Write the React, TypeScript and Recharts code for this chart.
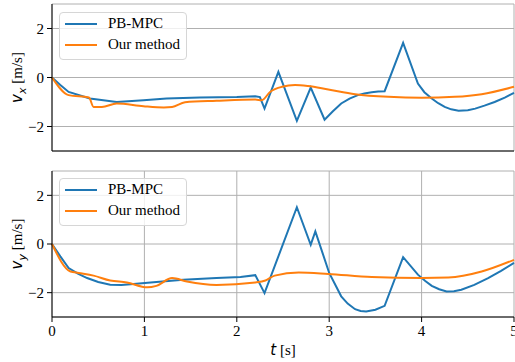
import { LineChart, Line, XAxis, YAxis, CartesianGrid, Legend } from 'recharts';

// time stamps [s] and velocities [m/s] for both controllers
const vxMpcT = [0, 0.09, 0.18, 0.41, 0.7, 0.99, 1.24, 1.6, 2.0, 2.2, 2.25, 2.3, 2.45, 2.65, 2.8, 2.95, 3.04, 3.13, 3.22, 3.31, 3.38, 3.46, 3.53, 3.6, 3.8, 3.96, 4.03, 4.11, 4.18, 4.25, 4.32, 4.4, 4.5, 4.58, 4.68, 4.79, 4.9, 5.0];
const vxMpc = [0, -0.31, -0.59, -0.86, -1.0, -0.93, -0.86, -0.82, -0.8, -0.77, -0.8, -1.27, 0.23, -1.77, -0.41, -1.72, -1.38, -1.06, -0.86, -0.72, -0.65, -0.6, -0.57, -0.56, 1.41, -0.25, -0.6, -0.86, -1.05, -1.2, -1.3, -1.36, -1.34, -1.27, -1.15, -1.0, -0.82, -0.63];

const vxOursT = [0, 0.18, 0.4, 0.45, 0.54, 0.7, 0.99, 1.21, 1.3, 1.44, 1.78, 2.2, 2.27, 2.36, 2.49, 2.63, 2.77, 2.99, 3.28, 3.64, 4.0, 4.36, 4.65, 5.0];
const vxOurs = [0, -0.72, -0.82, -1.2, -1.2, -1.06, -1.17, -1.22, -1.2, -1.01, -0.95, -0.9, -0.93, -0.59, -0.38, -0.31, -0.35, -0.49, -0.68, -0.79, -0.83, -0.79, -0.68, -0.38];

const vyMpcT = [0, 0.09, 0.18, 0.28, 0.38, 0.5, 0.63, 0.75, 0.85, 1.13, 1.42, 1.78, 2.04, 2.2, 2.3, 2.65, 2.8, 2.85, 3.0, 3.13, 3.2, 3.28, 3.34, 3.4, 3.5, 3.6, 3.8, 3.96, 4.04, 4.11, 4.19, 4.27, 4.35, 4.43, 4.57, 4.72, 4.86, 5.0];
const vyMpc = [0, -0.51, -0.99, -1.22, -1.4, -1.56, -1.67, -1.68, -1.65, -1.56, -1.47, -1.4, -1.36, -1.28, -2.02, 1.51, -0.03, 0.52, -1.19, -2.15, -2.45, -2.68, -2.75, -2.77, -2.7, -2.54, -0.54, -1.26, -1.52, -1.72, -1.86, -1.95, -1.94, -1.88, -1.68, -1.4, -1.1, -0.78];

const vyOursT = [0, 0.2, 0.29, 0.45, 0.63, 0.81, 1.03, 1.13, 1.3, 1.46, 1.78, 2.2, 2.31, 2.41, 2.67, 2.99, 3.46, 4.0, 4.29, 4.65, 5.0];
const vyOurs = [0, -1.13, -1.19, -1.3, -1.5, -1.58, -1.78, -1.72, -1.4, -1.54, -1.68, -1.58, -1.5, -1.3, -1.17, -1.23, -1.36, -1.4, -1.38, -1.13, -0.65];

const timeTicks = [0, 1, 2, 3, 4, 5];
const velTicks = [-2, 0, 2];
const seriesNames = ['PB-MPC', 'Our method'];

const BLUE = '#1f77b4';
const ORANGE = '#ff7f0e';
const SERIF = 'Liberation Serif, serif';
const SANS = 'DejaVu Sans, sans-serif';

const zip = (ts: number[], vs: number[]) => ts.map((t, i) => ({ t, v: vs[i] }));
const fmt = (n: number) => String(n).replace('-', '\u2212');

const LegendBox = ({ payload }: any) => {
  const items = [...(payload || [])].sort((a: any, b: any) => seriesNames.indexOf(a.value) - seriesNames.indexOf(b.value));
  return (
    <div
      style={{
        width: 128,
        boxSizing: 'border-box',
        border: '1px solid #d6d6d6',
        borderRadius: 4,
        background: 'rgba(255,255,255,0.8)',
        padding: '0 6px 4px 5px',
        fontFamily: SERIF,
        fontSize: 15,
        color: '#000',
      }}
    >
      {items.map((p: any) => (
        <div key={p.value} style={{ display: 'flex', alignItems: 'center', height: 21 }}>
          <svg width={32} height={4} style={{ flex: 'none' }}>
            <line x1={0} y1={2} x2={32} y2={2} stroke={p.color} strokeWidth={2} />
          </svg>
          <span style={{ marginLeft: 11, whiteSpace: 'nowrap', fontFamily: SERIF }}>{p.value}</span>
        </div>
      ))}
    </div>
  );
};

const YLabel = ({ viewBox, sub }: any) => {
  const cy = viewBox.y + viewBox.height / 2;
  const x = 22;
  return (
    <text x={x} y={cy} transform={`rotate(-90, ${x}, ${cy})`} textAnchor="middle" fontFamily={SERIF} fontSize={15} fill="#000">
      <tspan fontStyle="italic" fontFamily={SANS}>v</tspan>
      <tspan fontSize={11} dy={4} fontStyle="italic" fontFamily={SANS}>{sub}</tspan>
      <tspan dy={-4}> [m/s]</tspan>
    </text>
  );
};

const XLabel = ({ viewBox }: any) => (
  <text x={viewBox.x + viewBox.width / 2} y={viewBox.y + 38} textAnchor="middle" fontFamily={SERIF} fontSize={15} fill="#000">
    <tspan fontStyle="italic" fontFamily={SANS}>t</tspan> [s]
  </text>
);

type PanelProps = {
  mpc: { t: number; v: number }[];
  ours: { t: number; v: number }[];
  sub: string;
  top: number;
  height: number;
  marginTop: number;
  axisHeight: number;
  legendTop: number;
  bottomPanel: boolean;
};

const tickStyle = { fill: '#000', fontSize: 15, fontFamily: SERIF };

const Panel = ({ mpc, ours, sub, top, height, marginTop, axisHeight, legendTop, bottomPanel }: PanelProps) => (
  <div style={{ position: 'absolute', left: 0, top }}>
    <LineChart width={515} height={height} margin={{ top: marginTop, right: 1, bottom: 0, left: 0 }} style={{ fontFamily: SERIF }}>
      <CartesianGrid xAxisId="main" yAxisId="main" stroke="#b0b0b0" strokeWidth={1} />
      <XAxis
        xAxisId="main"
        dataKey="t"
        type="number"
        domain={[0, 5]}
        ticks={timeTicks}
        interval={0}
        height={axisHeight}
        axisLine={{ stroke: '#000' }}
        tickLine={{ stroke: '#000' }}
        tickSize={5}
        tickMargin={3}
        tick={bottomPanel ? tickStyle : false}
        label={bottomPanel ? <XLabel /> : undefined}
      />
      <XAxis xAxisId="top" orientation="top" type="number" domain={[0, 5]} ticks={timeTicks} height={0} tick={false} tickLine={false} axisLine={{ stroke: '#000' }} />
      <YAxis
        yAxisId="main"
        type="number"
        domain={[-3, 3]}
        ticks={velTicks}
        interval={0}
        width={52}
        axisLine={{ stroke: '#000' }}
        tickLine={{ stroke: '#000' }}
        tickSize={5}
        tickMargin={3}
        tickFormatter={fmt}
        tick={tickStyle}
        label={<YLabel sub={sub} />}
      />
      <YAxis yAxisId="right" orientation="right" type="number" domain={[-3, 3]} ticks={velTicks} width={0} tick={false} tickLine={false} axisLine={{ stroke: '#000' }} />
      <Line xAxisId="main" yAxisId="main" data={mpc} dataKey="v" name={seriesNames[0]} type="linear" stroke={BLUE} strokeWidth={2} dot={false} isAnimationActive={false} />
      <Line xAxisId="main" yAxisId="main" data={ours} dataKey="v" name={seriesNames[1]} type="monotoneX" stroke={ORANGE} strokeWidth={2} dot={false} isAnimationActive={false} />
      <Legend
        layout="horizontal"
        verticalAlign="middle"
        align="center"
        content={<LegendBox />}
        wrapperStyle={{ left: 59, top: legendTop, width: 128 }}
      />
    </LineChart>
  </div>
);

export default function App() {
  return (
    <div style={{ position: 'absolute', left: 0, top: 0, width: 515, height: 362, background: '#fff', fontFamily: SERIF }}>
      <Panel mpc={zip(vxMpcT, vxMpc)} ours={zip(vxOursT, vxOurs)} sub="x" top={0} height={161} marginTop={4} axisHeight={10} legendTop={12} bottomPanel={false} />
      <Panel mpc={zip(vyMpcT, vyMpc)} ours={zip(vyOursT, vyOurs)} sub="y" top={160} height={202} marginTop={11} axisHeight={45} legendTop={18} bottomPanel={true} />
    </div>
  );
}
